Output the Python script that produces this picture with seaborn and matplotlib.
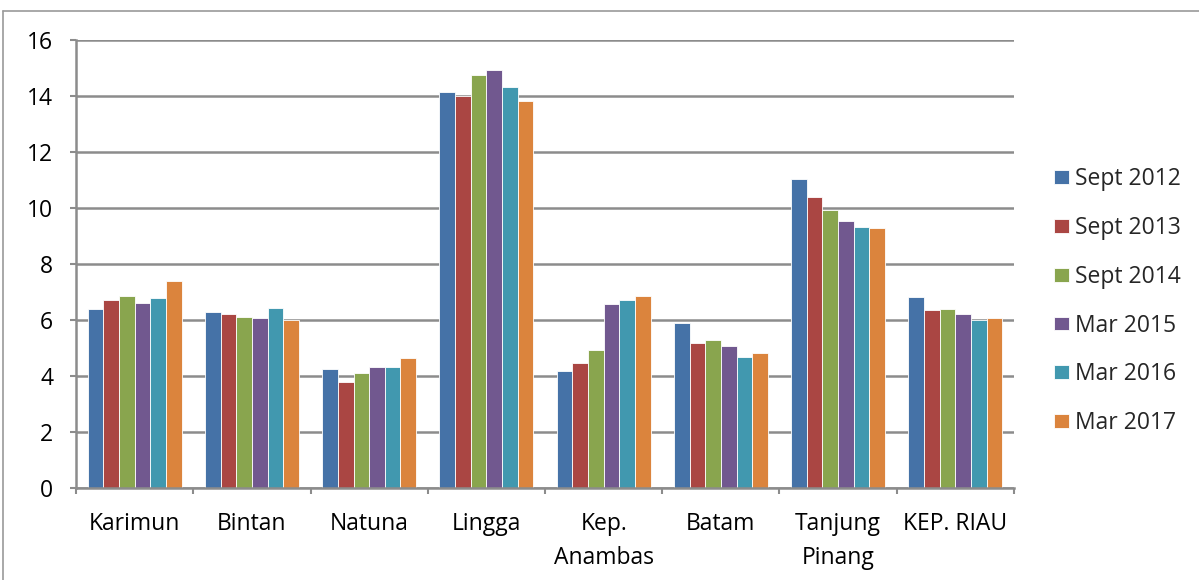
import matplotlib
matplotlib.use("Agg")
import matplotlib.pyplot as plt
from matplotlib.lines import Line2D
import pandas as pd
import seaborn as sns

regions = ["Karimun", "Bintan", "Natuna", "Lingga", "Kep.\nAnambas",
           "Batam", "Tanjung\nPinang", "KEP. RIAU"]
periods = ["Sept 2012", "Sept 2013", "Sept 2014", "Mar 2015", "Mar 2016", "Mar 2017"]

sept_2012 = [6.38, 6.29, 4.25, 14.13, 4.18, 5.89, 11.02, 6.83]
sept_2013 = [6.70, 6.23, 3.79, 14.01, 4.46, 5.19, 10.39, 6.36]
sept_2014 = [6.86, 6.10, 4.11, 14.74, 4.92, 5.29, 9.93, 6.39]
mar_2015 = [6.61, 6.06, 4.33, 14.93, 6.58, 5.08, 9.55, 6.23]
mar_2016 = [6.77, 6.43, 4.33, 14.33, 6.73, 4.68, 9.33, 6.01]
mar_2017 = [7.40, 6.01, 4.64, 13.82, 6.87, 4.81, 9.29, 6.07]

series = [sept_2012, sept_2013, sept_2014, mar_2015, mar_2016, mar_2017]
colors = ["#4572A7", "#AA4643", "#89A54E", "#71588F", "#4198AF", "#DB843D"]

rows = []
for period, values in zip(periods, series):
    for region, v in zip(regions, values):
        rows.append({"region": region, "period": period, "value": v})
df = pd.DataFrame(rows)

sns.set_theme(style="white")
plt.rcParams["font.family"] = ["Open Sans", "DejaVu Sans"]

FS = 16.5

fig = plt.figure(figsize=(11.99, 5.80), dpi=100)
ax = fig.add_axes([0.0634, 0.1586, 0.7823, 0.7724])

sns.barplot(data=df, x="region", y="value", hue="period", order=regions,
            hue_order=periods, palette=colors, saturation=1, width=0.8,
            edgecolor="white", linewidth=0.6, ax=ax, errorbar=None)

grid_c = "#8c8c8c"
ax.set_ylim(0, 16)
ax.set_xlim(-0.5, len(regions) - 0.5)
ax.set_yticks(range(0, 17, 2))
ax.yaxis.grid(True, color=grid_c, linewidth=1.8)
ax.set_axisbelow(True)
for side in ["top", "right"]:
    ax.spines[side].set_visible(False)
for side in ["left", "bottom"]:
    ax.spines[side].set_color(grid_c)
    ax.spines[side].set_linewidth(1.8)

ax.set_xlabel("")
ax.set_ylabel("")
ax.tick_params(axis="y", labelsize=FS, colors="black", length=4.5,
               width=1.5, color=grid_c, pad=12, left=True)
ax.tick_params(axis="x", labelsize=FS, colors="black", length=0, pad=17)
for lbl in ax.get_xticklabels():
    lbl.set_linespacing(1.6)
    lbl.set_verticalalignment("top")

# category boundary tick marks below the axis
ax.set_xticks([i - 0.5 for i in range(len(regions) + 1)], minor=True)
ax.tick_params(axis="x", which="minor", length=4.5, width=1.5, color=grid_c,
               bottom=True)

handles, labels = ax.get_legend_handles_labels()
ax.legend(handles, labels, loc="center left", bbox_to_anchor=(1.043, 0.417),
          frameon=False, fontsize=FS, handlelength=0.62, handleheight=0.55,
          handletextpad=0.3, labelspacing=1.08, borderaxespad=0, borderpad=0)

# outer chart frame
fig.add_artist(Line2D([0.0025, 0.0025], [0, 1 - 11 / 580],
                      transform=fig.transFigure, color="#9a9a9a", lw=1.2))
fig.add_artist(Line2D([0.0025, 1], [1 - 11 / 580, 1 - 11 / 580],
                      transform=fig.transFigure, color="#9a9a9a", lw=1.2))

fig.savefig("out.png", dpi=100)
